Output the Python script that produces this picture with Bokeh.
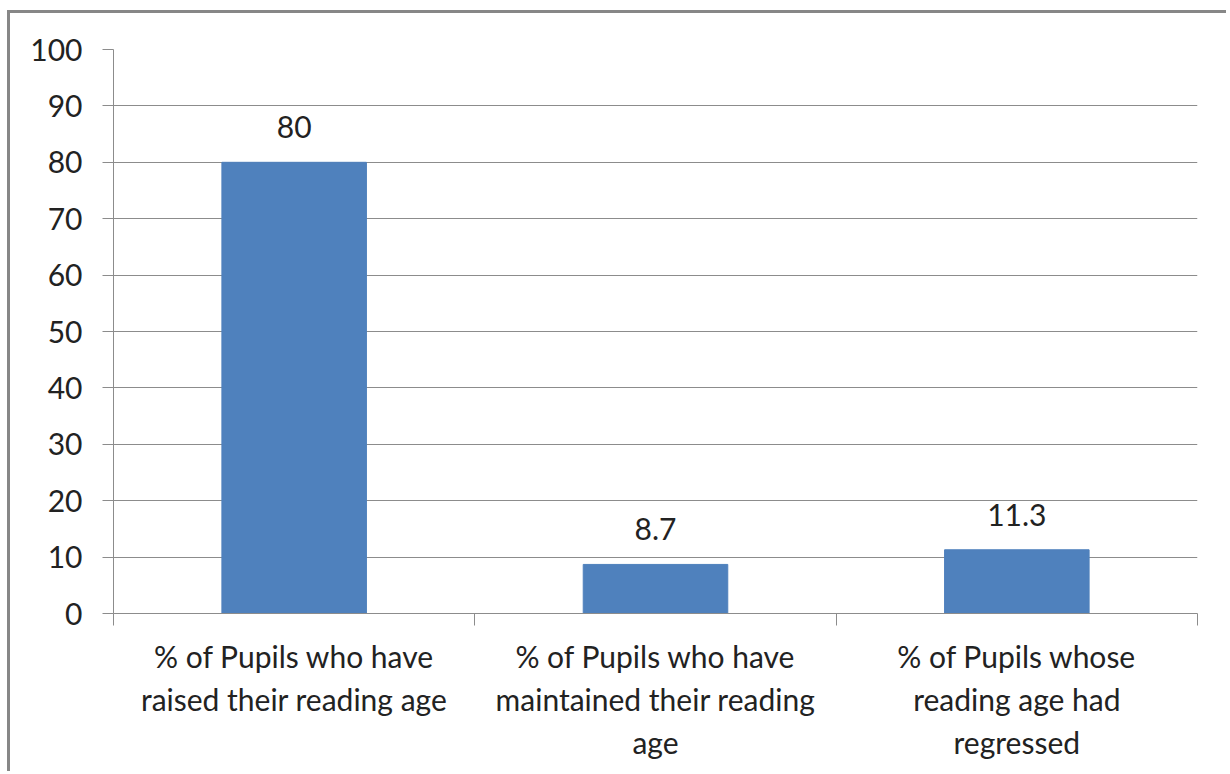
from bokeh.plotting import figure
from bokeh.models import (ColumnDataSource, LabelSet, Range1d, LinearAxis, FixedTicker)
from bokeh.core.properties import value
from bokeh.embed import file_html
from bokeh.resources import INLINE

categories = [
    "% of Pupils who have\nraised their reading age",
    "% of Pupils who have\nmaintained their reading\nage",
    "% of Pupils whose\nreading age had\nregressed",
]
values = [80, 8.7, 11.3]
y_ticks = [0, 10, 20, 30, 40, 50, 60, 70, 80, 90, 100]


def fmt(v):
    return str(int(v)) if float(v).is_integer() else str(v)


n = len(categories)
centers = [i + 0.5 for i in range(n)]
bounds = list(range(n + 1))
labels = [fmt(v) for v in values]
src = ColumnDataSource(dict(x=centers, val=values, lab=labels))

FONT = "Lato"
TXT = "#222222"
GRID = "#8c8c8c"
NUM_SIZE = "30px"
CAT_SIZE = "30px"

p = figure(width=1219, height=761, output_backend="svg", toolbar_location=None,
           x_range=Range1d(0, n), y_range=Range1d(0, 100), x_axis_location=None,
           min_border_left=103, min_border_top=36, min_border_right=32, min_border_bottom=161)
p.styles = {"border-left": "3px solid #878787", "border-top": "3px solid #878787",
            "margin-left": "7px", "margin-top": "10px"}
p.outline_line_color = None
p.background_fill_color = "white"
p.border_fill_color = "white"

p.vbar(x="x", top="val", width=0.4, source=src, color="#4F81BD")

p.add_layout(LabelSet(x="x", y="val", text="lab", source=src, text_align="center",
                      text_baseline="bottom", y_offset=24, text_font=value(FONT),
                      text_font_size=NUM_SIZE, text_color=TXT))

# y axis
ya = p.yaxis[0]
ya.ticker = FixedTicker(ticks=y_ticks)
ya.axis_line_color = GRID
ya.major_tick_line_color = GRID
ya.major_tick_out = 11
ya.major_tick_in = 0
ya.minor_tick_line_color = None
ya.major_label_text_font = FONT
ya.major_label_text_font_size = NUM_SIZE
ya.major_label_text_color = TXT
ya.major_label_standoff = 20
p.ygrid.ticker = FixedTicker(ticks=y_ticks)
p.ygrid.grid_line_color = GRID
p.xgrid.grid_line_color = None

# x axis: boundary ticks
tick_axis = LinearAxis(ticker=FixedTicker(ticks=bounds))
tick_axis.axis_line_color = GRID
tick_axis.major_tick_line_color = GRID
tick_axis.major_tick_out = 12
tick_axis.major_tick_in = 0
tick_axis.minor_tick_line_color = None
tick_axis.major_label_text_font_size = "1px"
tick_axis.major_label_text_alpha = 0
tick_axis.major_label_standoff = 0
p.add_layout(tick_axis, "below")

# x axis: category labels at centres
label_axis = LinearAxis(ticker=FixedTicker(ticks=centers),
                        major_label_overrides={c: t for c, t in zip(centers, categories)})
label_axis.axis_line_color = None
label_axis.major_tick_line_color = None
label_axis.minor_tick_line_color = None
label_axis.major_label_text_font = FONT
label_axis.major_label_text_font_size = CAT_SIZE
label_axis.major_label_text_color = TXT
label_axis.major_label_standoff = 6
p.add_layout(label_axis, "below")

open("out.html", "w").write(file_html(p, INLINE))
